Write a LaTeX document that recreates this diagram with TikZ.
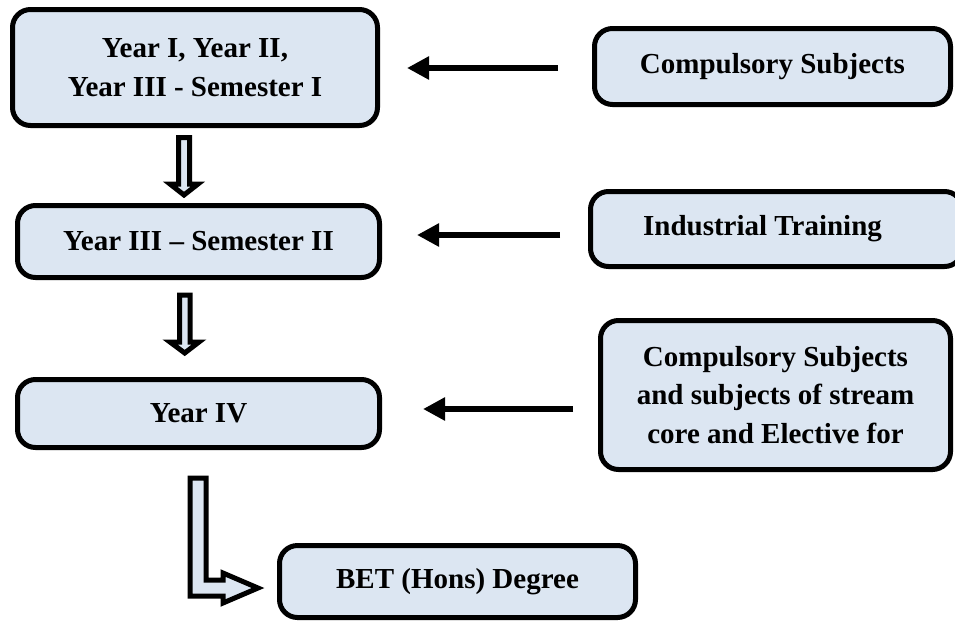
\documentclass[tikz,border=0pt]{standalone}
\usepackage{fontspec}
\setmainfont{Liberation Serif}
\usetikzlibrary{arrows.meta}
\definecolor{boxfill}{RGB}{220,230,242}
\begin{document}
\begin{tikzpicture}[x=1pt,y=-1pt,
  box/.style={draw=black, line width=5pt, fill=boxfill, rounded corners=18pt,
    align=center, inner sep=0pt,
    font=\bfseries\fontsize{29}{38.5}\selectfont},
  arr/.style={-{Triangle[length=22pt,width=22pt]}, line width=6.5pt},
  blockarrow/.style={draw=black, line width=5pt, fill=boxfill, line join=miter}]
\useasboundingbox (0,0) rectangle (955,622);

% left column
\node[box, minimum width=365pt, minimum height=116pt] (y1) at (195,67.5)
  {Year I, Year II,\\Year III - Semester I};
\node[box, minimum width=362pt, minimum height=72pt] (y2) at (198.5,241.5)
  {Year III -- Semester II};
\node[box, minimum width=362pt, minimum height=68pt] (y3) at (198.5,413.5)
  {Year IV};
\node[box, minimum width=356pt, minimum height=72pt] (bet) at (457.5,581.5)
  {BET (Hons) Degree};

% right column
\node[box, minimum width=356pt, minimum height=76pt] (r1) at (772.5,66.5)
  {Compulsory Subjects};
\node[box, minimum width=372pt, minimum height=75pt] (r2) at (776.5,229)
  {\hspace*{-28pt}Industrial Training};
\node[box, minimum width=350pt, minimum height=149pt] (r3) at (775.5,395)
  {Compulsory Subjects\\and subjects of stream\\core and Elective for};

% horizontal arrows
\coordinate (a1s) at (558,68);  \coordinate (a1e) at (407,68);
\coordinate (a2s) at (560,235); \coordinate (a2e) at (417,235);
\coordinate (a3s) at (573,409); \coordinate (a3e) at (423,409);
\draw[arr] (a1s) -- (a1e);
\draw[arr] (a2s) -- (a2e);
\draw[arr] (a3s) -- (a3e);

% block arrows (down)
\draw[blockarrow] (178.5,137.5) -- (189.5,137.5) -- (189.5,184) -- (198,184)
  -- (184,195) -- (170,184) -- (178.5,184) -- cycle;
\draw[blockarrow] (179.5,295) -- (190,295) -- (190,342) -- (199,342)
  -- (184.7,353) -- (170,342) -- (179.5,342) -- cycle;

% L-shaped block arrow to BET
\draw[blockarrow] (190,478) -- (206,478) -- (206,580) -- (223,580) -- (223,573)
  -- (258,588) -- (223,603) -- (223,596) -- (190,596) -- cycle;
\end{tikzpicture}
\end{document}
